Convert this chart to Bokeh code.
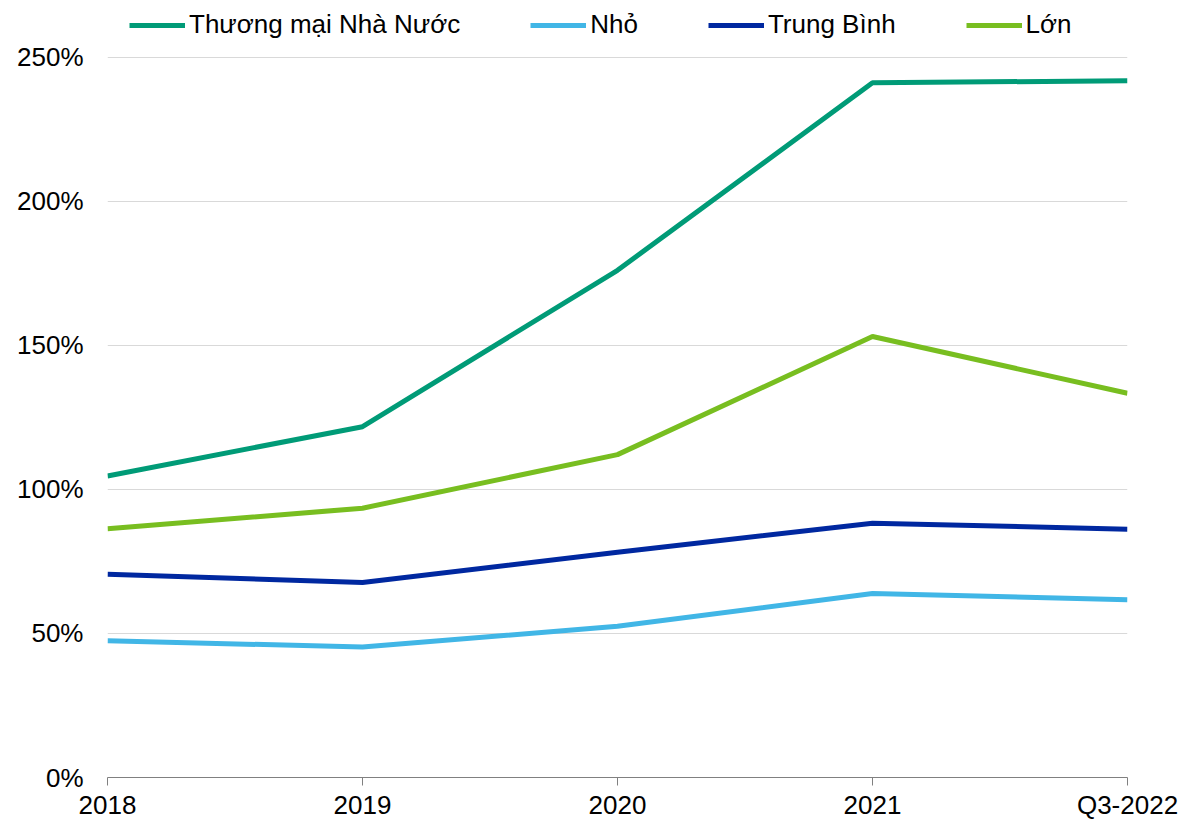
from bokeh.plotting import figure
from bokeh.models import Range1d, FixedTicker, Legend, LegendItem
from bokeh.embed import file_html
from bokeh.resources import INLINE

categories = ["2018", "2019", "2020", "2021", "Q3-2022"]
series_names = ["Thương mại Nhà Nước", "Nhỏ", "Trung Bình", "Lớn"]
thuong_mai = [104.7, 121.8, 176.1, 241.2, 241.9]
nho = [47.5, 45.3, 52.5, 63.9, 61.7]
trung_binh = [70.6, 67.7, 78.2, 88.3, 86.2]
lon = [86.4, 93.5, 112.1, 153.1, 133.4]
y_ticks = [0, 50, 100, 150, 200, 250]

colors = ["#009B77", "#41B6E6", "#0028A0", "#78BE20"]
FONT = "Liberation Sans"

# frame spans the full height above the x axis (778 px); the 250% line sits 57 px below the top
FRAME_H = 778
Y_TOP = 250 * FRAME_H / (FRAME_H - 57)

p = figure(width=1180, height=822, output_backend="svg", toolbar_location=None,
           x_range=Range1d(0, len(categories) - 1), y_range=Range1d(0, Y_TOP),
           min_border_left=107, min_border_right=53, min_border_top=0, min_border_bottom=44)
p.outline_line_color = None
p.background_fill_color = "white"

xs = list(range(len(categories)))
renderers = []
for name, vals, c in zip(series_names, [thuong_mai, nho, trung_binh, lon], colors):
    r = p.line(xs, vals, line_color=c, line_width=5)
    renderers.append(r)

# axes
p.xaxis.ticker = FixedTicker(ticks=xs)
p.xaxis.major_label_overrides = {i: c for i, c in enumerate(categories)}
p.xaxis.axis_line_color = "#808080"
p.xaxis.major_tick_line_color = "#808080"
p.xaxis.major_tick_out = 8
p.xaxis.major_tick_in = 0
p.xaxis.minor_tick_line_color = None
p.xaxis.major_label_standoff = 4
p.xaxis.major_label_text_font = FONT
p.xaxis.major_label_text_font_size = "26px"
p.xaxis.major_label_text_color = "black"

p.yaxis.ticker = FixedTicker(ticks=y_ticks)
p.yaxis.major_label_overrides = {t: f"{t}%" for t in y_ticks}
p.yaxis.axis_line_color = None
p.yaxis.major_tick_line_color = None
p.yaxis.minor_tick_line_color = None
p.yaxis.major_label_standoff = 18
p.yaxis.major_label_text_font = FONT
p.yaxis.major_label_text_font_size = "26px"
p.yaxis.major_label_text_color = "black"

p.xgrid.grid_line_color = None
p.ygrid.grid_line_color = "#D9D9D9"
p.ygrid.grid_line_width = 1

legend = Legend(items=[LegendItem(label=n, renderers=[r]) for n, r in zip(series_names, renderers)],
                orientation="horizontal", location=(22, FRAME_H - 41),
                glyph_width=56, glyph_height=30, label_standoff=4, spacing=70,
                padding=0, margin=0, border_line_color=None, background_fill_alpha=0,
                label_text_font=FONT, label_text_font_size="26px", label_text_color="black",
                label_height=30)
p.add_layout(legend, "center")

open("out.html", "w").write(file_html(p, INLINE))
